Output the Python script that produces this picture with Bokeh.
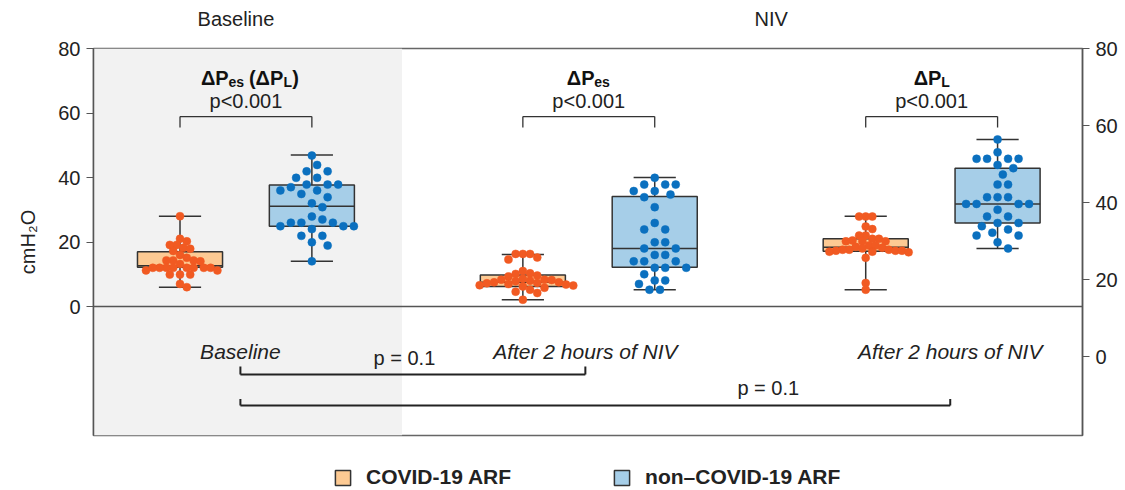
import numpy as np
from bokeh.plotting import figure
from bokeh.layouts import column
from bokeh.models import (Range1d, LinearAxis, FixedTicker, Label, Legend, LegendItem,
                          ColumnDataSource, BoxAnnotation, Span)
from bokeh.core.properties import value
from bokeh.embed import file_html
from bokeh.resources import INLINE

FONT = "Liberation Sans"

# ---------------- data ----------------
group_names = ["Baseline", "NIV ΔPes", "NIV ΔPL"]
series_names = ["COVID-19 ARF", "non–COVID-19 ARF"]

covid_baseline = [28.0, 21.0, 20.2, 19.1, 19.1, 18.2, 17.9, 17.2, 16.0, 15.1, 14.3, 14.3, 14.3, 14.0, 13.2,
                  12.0, 12.0, 12.0, 12.0, 12.0, 12.0, 12.0, 12.0, 11.2, 11.2, 9.9, 9.9, 9.9, 7.0, 6.0]
noncovid_baseline = [46.8, 43.9, 41.9, 41.9, 39.9, 39.9, 37.8, 37.8, 37.8, 37.0, 36.0, 36.0, 34.9, 33.9, 32.0,
                     30.8, 27.9, 27.0, 26.0, 26.0, 26.0, 24.9, 24.9, 24.9, 24.0, 21.9, 21.9, 19.9, 18.9, 14.0]
covid_niv_pes = [16.3, 16.3, 16.3, 15.2, 14.6, 11.0, 10.3, 10.1, 9.6, 9.3, 8.6, 8.3, 8.3, 8.2, 8.0,
                 7.8, 7.5, 7.5, 7.3, 7.2, 7.0, 6.8, 6.6, 6.5, 6.2, 5.8, 5.2, 4.6, 4.2, 2.1]
noncovid_niv_pes = [39.9, 37.8, 37.8, 37.8, 35.8, 35.8, 34.7, 33.9, 30.8, 25.9, 23.9, 23.9, 19.9, 19.9, 18.0,
                    18.0, 16.0, 16.0, 14.0, 14.0, 14.0, 12.0, 12.0, 12.0, 10.0, 8.1, 8.1, 7.0, 5.2, 5.2]
covid_niv_pl = [27.9, 27.9, 27.9, 24.8, 24.0, 22.0, 22.0, 21.0, 21.0, 20.5, 20.2, 20.2, 20.2, 18.9, 18.9,
                18.5, 18.2, 18.0, 17.6, 17.6, 17.6, 17.3, 17.3, 17.3, 17.0, 17.0, 16.8, 15.1, 7.3, 5.2]
noncovid_niv_pl = [51.8, 47.8, 45.8, 45.8, 45.8, 45.8, 43.9, 42.9, 40.9, 37.8, 37.8, 33.9, 33.9, 33.9, 31.8,
                   31.8, 31.8, 31.8, 30.0, 27.9, 27.9, 25.9, 25.9, 24.9, 23.9, 22.9, 22.0, 22.0, 19.9, 18.0]

covid_low = [6.0, 2.1, 5.2]
covid_q1 = [12.2, 6.2, 17.1]
covid_median = [12.6, 7.5, 18.4]
covid_q3 = [17.0, 9.8, 21.0]
covid_high = [28.0, 16.1, 28.0]

noncovid_low = [14.0, 5.2, 18.0]
noncovid_q1 = [24.9, 12.2, 25.9]
noncovid_median = [31.1, 18.0, 31.8]
noncovid_q3 = [37.7, 34.1, 42.9]
noncovid_high = [47.0, 40.0, 51.8]

p_within = ["p<0.001", "p<0.001", "p<0.001"]
p_between = ["p = 0.1", "p = 0.1"]
time_labels = ["Baseline", "After 2 hours of NIV", "After 2 hours of NIV"]
phase_labels = ["Baseline", "NIV"]
left_ticks = [0, 20, 40, 60, 80]
right_ticks = [0, 20, 40, 60, 80]

# ---------------- layout constants ----------------
FW, FH = 989, 387
BL, BR = 93, 41
XR = (0, 7.5)
YR = (-40, 80)
X_PX = FW / (XR[1] - XR[0])
Y_PX = FH / (YR[1] - YR[0])
X_START, X_GAP, PAIR = 1.156, 2.6, 0.5
BOX_W, CAP_W = 0.645, 0.32

ORANGE_PT, ORANGE_BOX = "#F15A22", "#FDCA93"
BLUE_PT, BLUE_BOX = "#0B70BF", "#A6CEE8"
DARK = "#333333"
TXT = "#222222"

centers = [X_START + X_GAP * i for i in range(3)]
cx_covid = [c - PAIR for c in centers]
cx_non = [c + PAIR for c in centers]

x_range = Range1d(*XR)

# ---------------- top strip (phase labels) ----------------
TOP_H = 36
top = figure(frame_width=FW, frame_height=TOP_H, x_range=x_range, y_range=Range1d(0, TOP_H),
             output_backend="svg", toolbar_location=None, x_axis_location=None, y_axis_location=None,
             min_border_left=BL, min_border_right=BR, min_border_top=0, min_border_bottom=0,
             outline_line_color=None, background_fill_color="white", border_fill_color="white")
top.grid.visible = False
top.text(x=[1.08, 5.14], y=[TOP_H - 18] * 2, text=phase_labels, text_font=value(FONT),
         text_font_size="20px", text_align="center", text_baseline="middle", text_color=TXT)

# ---------------- main plot ----------------
p = figure(frame_width=FW, frame_height=FH, x_range=x_range, y_range=Range1d(*YR),
           output_backend="svg", toolbar_location=None, x_axis_location=None,
           min_border_left=BL, min_border_right=BR, min_border_top=12, min_border_bottom=20,
           background_fill_color="white", border_fill_color="white")
p.grid.visible = False
p.outline_line_color = "#666666"
p.outline_line_width = 1.5

p.add_layout(BoxAnnotation(right=2.34, fill_color="#F2F2F2", fill_alpha=1.0, line_alpha=0, level="underlay"))
p.add_layout(Span(location=0, dimension="width", line_color="#555555", line_width=1.5))

def style_axis(ax, ticks):
    ax.ticker = FixedTicker(ticks=ticks)
    ax.minor_tick_line_color = None
    ax.major_tick_in = 0
    ax.major_tick_out = 7
    ax.major_tick_line_color = "#555555"
    ax.major_tick_line_width = 1.2
    ax.axis_line_color = "#555555"
    ax.axis_line_width = 1.5
    ax.major_label_text_font = FONT
    ax.major_label_text_font_size = "20px"
    ax.major_label_text_color = TXT
    ax.major_label_standoff = 6

yl = p.yaxis[0]
style_axis(yl, left_ticks)
yl.axis_label = "cmH₂O"
yl.axis_label_text_font = FONT
yl.axis_label_text_font_size = "20px"
yl.axis_label_text_font_style = "normal"
yl.axis_label_text_color = TXT
yl.axis_label_standoff = 16

p.extra_y_ranges = {"right": Range1d(-20.5, 80)}
yr = LinearAxis(y_range_name="right")
style_axis(yr, right_ticks)
p.add_layout(yr, "right")

def swarm_offsets(vals, dot=7.0):
    step = dot / 2.0
    vals = np.asarray(vals, dtype=float)
    order = np.argsort(-vals, kind="stable")
    cands = [0.0]
    for k in range(1, 60):
        cands += [k * step, -k * step]
    placed = []
    offs = np.zeros(len(vals))
    for i in order:
        y = vals[i] * Y_PX
        for c in cands:
            if all((c - px) ** 2 + (y - py) ** 2 >= dot * dot * 0.999 for px, py in placed):
                break
        placed.append((c, y))
        offs[i] = c
    return offs / X_PX

def draw_boxes(xc, low, q1, med, q3, high, fill):
    src = ColumnDataSource(dict(
        left=[x - BOX_W / 2 for x in xc], right=[x + BOX_W / 2 for x in xc],
        x=xc, low=low, q1=q1, med=med, q3=q3, high=high,
        cl=[x - CAP_W / 2 for x in xc], cr=[x + CAP_W / 2 for x in xc]))
    p.segment(x0="x", y0="low", x1="x", y1="q1", source=src, line_color=DARK, line_width=1.5)
    p.segment(x0="x", y0="q3", x1="x", y1="high", source=src, line_color=DARK, line_width=1.5)
    p.segment(x0="cl", y0="low", x1="cr", y1="low", source=src, line_color=DARK, line_width=1.5)
    p.segment(x0="cl", y0="high", x1="cr", y1="high", source=src, line_color=DARK, line_width=1.5)
    p.quad(left="left", right="right", bottom="q1", top="q3", source=src,
           fill_color=fill, line_color=DARK, line_width=1.5)
    p.segment(x0="left", y0="med", x1="right", y1="med", source=src, line_color=DARK, line_width=1.5)

draw_boxes(cx_covid, covid_low, covid_q1, covid_median, covid_q3, covid_high, ORANGE_BOX)
draw_boxes(cx_non, noncovid_low, noncovid_q1, noncovid_median, noncovid_q3, noncovid_high, BLUE_BOX)

for xc, vals, col, dot in [(cx_covid[0], covid_baseline, ORANGE_PT, 6.8), (cx_non[0], noncovid_baseline, BLUE_PT, 10.5),
                           (cx_covid[1], covid_niv_pes, ORANGE_PT, 7.2), (cx_non[1], noncovid_niv_pes, BLUE_PT, 10.5),
                           (cx_covid[2], covid_niv_pl, ORANGE_PT, 6.6), (cx_non[2], noncovid_niv_pl, BLUE_PT, 10.5)]:
    xs = xc + swarm_offsets(vals, dot)
    p.scatter(x=xs, y=vals, size=8, fill_color=col, line_color=col, line_width=0.5)

# within-group brackets and p-values
BR_TOP, BR_DROP = 58.9, 3.4
p.segment(x0=cx_covid, y0=[BR_TOP] * 3, x1=cx_non, y1=[BR_TOP] * 3, line_color=DARK, line_width=1.3)
p.segment(x0=cx_covid, y0=[BR_TOP] * 3, x1=cx_covid, y1=[BR_TOP - BR_DROP] * 3, line_color=DARK, line_width=1.3)
p.segment(x0=cx_non, y0=[BR_TOP] * 3, x1=cx_non, y1=[BR_TOP - BR_DROP] * 3, line_color=DARK, line_width=1.3)
for c, t in zip(centers, p_within):
    p.add_layout(Label(x=c, y=63.6, text=t, text_font=FONT, text_font_size="20px", text_align="center",
                       text_baseline="middle", text_color=TXT))

# group titles with subscripts
def title_pieces(c, pieces, start):
    off = start
    for txt, size, w in pieces:
        small = size < 16
        p.add_layout(Label(x=c, y=71.0 - (1.3 if small else 0), x_offset=off, text=txt, text_font=FONT,
                           text_font_size=f"{size}px", text_font_style="bold", text_align="left",
                           text_baseline="alphabetic", text_color="#111111"))
        off += w

title_pieces(centers[0] + 0.03, [("ΔP", 20, 27.5), ("es", 14, 20.5), ("(ΔP", 20, 34.5), ("L", 14, 8.8), (")", 20, 7)], -49)
title_pieces(centers[1], [("ΔP", 20, 27.5), ("es", 14, 16)], -22)
title_pieces(centers[2], [("ΔP", 20, 27.5), ("L", 14, 9)], -18)

# time labels and between-time brackets
time_x = [1.114, 3.73, 6.497]
for x, t in zip(time_x, time_labels):
    p.add_layout(Label(x=x, y=-14.0, text=t, text_font=FONT, text_font_size="21px", text_font_style="italic",
                       text_align="center", text_baseline="middle", text_color=TXT))
b_y = [-21.1, -30.7]
b_up = [2.5, 2.0]
b_x1 = [time_x[1], time_x[2]]
p.segment(x0=[time_x[0]] * 2, y0=b_y, x1=b_x1, y1=b_y, line_color=TXT, line_width=2)
p.segment(x0=[time_x[0]] * 2, y0=b_y, x1=[time_x[0]] * 2, y1=[y + u for y, u in zip(b_y, b_up)],
          line_color=TXT, line_width=2)
p.segment(x0=b_x1, y0=b_y, x1=b_x1, y1=[y + u for y, u in zip(b_y, b_up)], line_color=TXT, line_width=2)
for x, y, t in zip([2.358, 5.117], [-16.1, -25.4], p_between):
    p.add_layout(Label(x=x, y=y, text=t, text_font=FONT, text_font_size="20px", text_align="center",
                       text_baseline="middle", text_color=TXT))

# ---------------- legend strip ----------------
LW = BL + FW + BR
LH = 490 - TOP_H - (12 + FH + 20)
leg = figure(frame_width=LW, frame_height=LH, x_range=Range1d(0, LW), y_range=Range1d(0, LH),
             output_backend="svg", toolbar_location=None, x_axis_location=None, y_axis_location=None,
             min_border=0, outline_line_color=None, background_fill_color="white", border_fill_color="white")
leg.grid.visible = False
r1 = leg.quad(left=[-20], right=[-10], bottom=[-20], top=[-10], fill_color=ORANGE_BOX, line_color=DARK, line_width=1.5)
r2 = leg.quad(left=[-20], right=[-10], bottom=[-20], top=[-10], fill_color=BLUE_BOX, line_color=DARK, line_width=1.5)
legend = Legend(items=[LegendItem(label=series_names[0], renderers=[r1]),
                       LegendItem(label=series_names[1], renderers=[r2])],
                orientation="horizontal", location=(333, 1), padding=0, margin=0,
                border_line_color=None, background_fill_alpha=0,
                glyph_width=19, glyph_height=19, label_standoff=14, spacing=101,
                label_text_font=FONT, label_text_font_size="21px", label_text_font_style="bold",
                label_text_color=TXT)
leg.add_layout(legend)

layout = column(top, p, leg, spacing=0)
open("out.html", "w").write(file_html(layout, INLINE))
